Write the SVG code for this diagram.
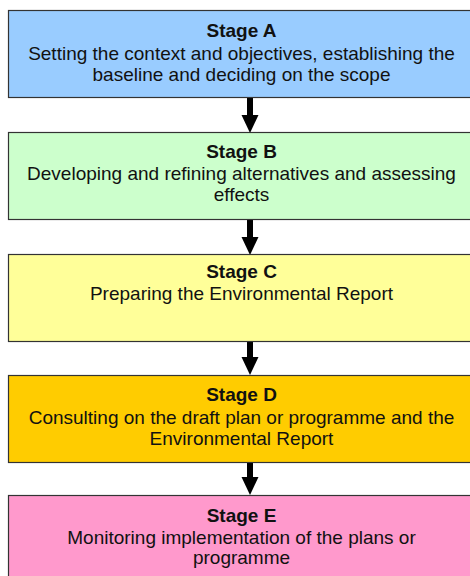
<svg xmlns="http://www.w3.org/2000/svg" width="470" height="576" viewBox="0 0 470 576">
<style>
.box{stroke:#333;stroke-width:1.2}
.t{font-family:"Liberation Sans",Arial,sans-serif;font-size:19px;fill:#111;text-anchor:middle}
.b{font-weight:bold}
.shaft{stroke:#000;stroke-width:6}
</style>
<g id="connectors">
<line class="shaft" x1="250" y1="98" x2="250" y2="116"/><path d="M241.5,115 L258.5,115 L250,133 Z"/>
<line class="shaft" x1="250" y1="220" x2="250" y2="238"/><path d="M241.5,237 L258.5,237 L250,255 Z"/>
<line class="shaft" x1="250" y1="342" x2="250" y2="358"/><path d="M241.5,357 L258.5,357 L250,375 Z"/>
<line class="shaft" x1="250" y1="463" x2="250" y2="478"/><path d="M241.5,477 L258.5,477 L250,495 Z"/>
</g>
<g id="stageA">
<rect class="box" x="8.5" y="10.5" width="467" height="87" fill="#99ccff"/>
<text class="t b" x="241.5" y="37">Stage A</text>
<text class="t" x="241.5" y="60">Setting the context and objectives, establishing the</text>
<text class="t" x="241.5" y="81">baseline and deciding on the scope</text>
</g>
<g id="stageB">
<rect class="box" x="8.5" y="132.5" width="467" height="87" fill="#ccffcc"/>
<text class="t b" x="241.5" y="157.5">Stage B</text>
<text class="t" x="241.5" y="180">Developing and refining alternatives and assessing</text>
<text class="t" x="241.5" y="201">effects</text>
</g>
<g id="stageC">
<rect class="box" x="8.5" y="254.5" width="467" height="87" fill="#ffff99"/>
<text class="t b" x="241.5" y="277.5">Stage C</text>
<text class="t" x="241.5" y="300">Preparing the Environmental Report</text>
</g>
<g id="stageD">
<rect class="box" x="8.5" y="375.5" width="467" height="87" fill="#ffcc00"/>
<text class="t b" x="241.5" y="401">Stage D</text>
<text class="t" x="241.5" y="423.5">Consulting on the draft plan or programme and the</text>
<text class="t" x="241.5" y="445">Environmental Report</text>
</g>
<g id="stageE">
<rect class="box" x="8.5" y="495.5" width="467" height="100" fill="#ff99cc"/>
<text class="t b" x="241.5" y="521.5">Stage E</text>
<text class="t" x="241.5" y="543.5">Monitoring implementation of the plans or</text>
<text class="t" x="241.5" y="563.5">programme</text>
</g>
</svg>
